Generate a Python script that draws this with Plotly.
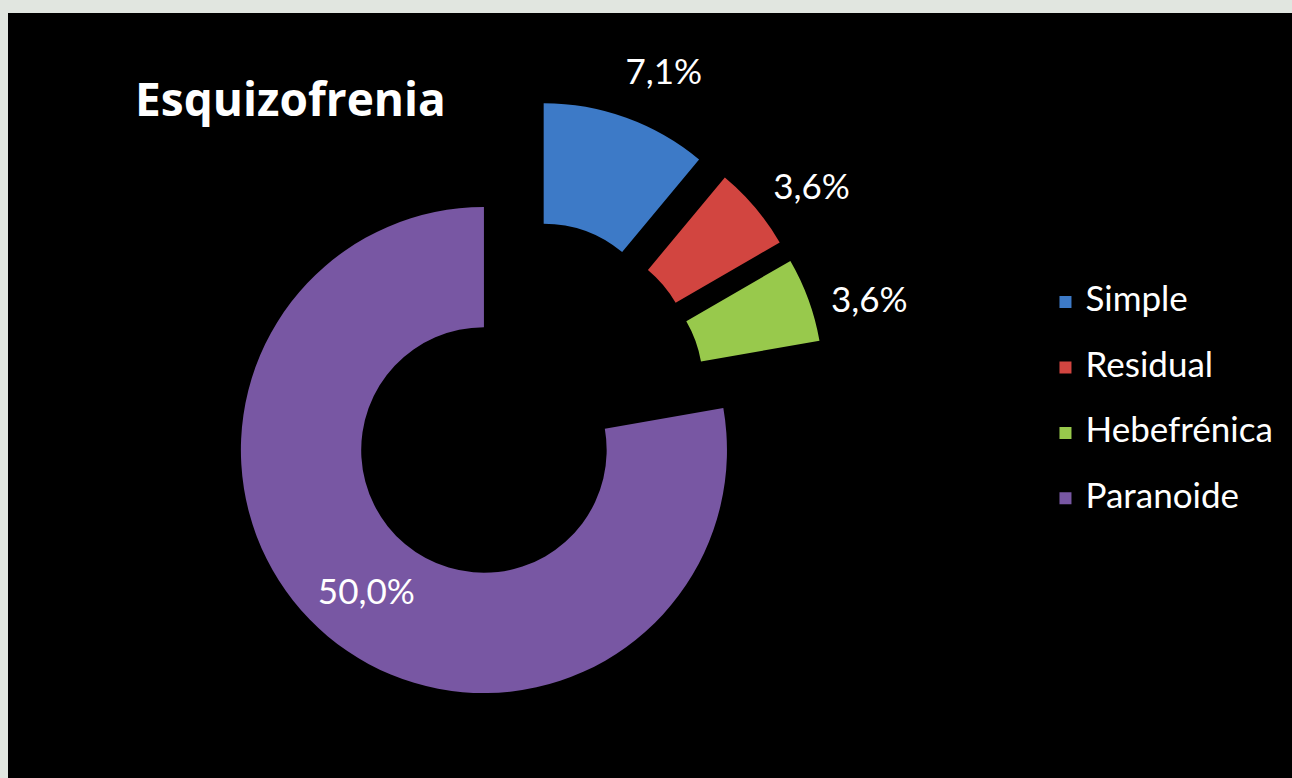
import plotly.graph_objects as go

# data
categories = ["Simple", "Residual", "Hebefrénica", "Paranoide"]
percent_values = [7.1, 3.6, 3.6, 50.0]
percent_labels = ["7,1%", "3,6%", "3,6%", "50,0%"]

colors = ["#3d7ac7", "#d24540", "#98c94c", "#7857a3"]
FONT = "Lato, 'Open Sans', sans-serif"

# two-line legend entries so the spacing matches the original (symbol sits on first line)
legend_names = [f"<span style='font-size:35px'>{c}</span><br> " for c in categories]

fig = go.Figure()
# the doughnut itself, every slice exploded
fig.add_trace(go.Pie(
    labels=legend_names,
    values=percent_values,
    text=percent_labels,
    texttemplate="%{text}",
    textposition=["none", "none", "none", "inside"],
    insidetextorientation="horizontal",
    textfont=dict(family=FONT, size=35, color="white"),
    hole=0.505,
    pull=[0.25, 0.25, 0.25, 0.25],
    sort=False,
    direction="clockwise",
    rotation=0,
    marker=dict(colors=colors, line=dict(width=0)),
    domain=dict(x=[0.1645, 0.6377], y=[0.0919, 0.8871]),
    hoverinfo="skip",
))
# transparent outer ring, only carries the labels of the small slices further out
fig.add_trace(go.Pie(
    labels=categories,
    values=percent_values,
    text=percent_labels,
    texttemplate="%{text}",
    textposition=["inside", "inside", "inside", "none"],
    insidetextorientation="horizontal",
    textfont=dict(family=FONT, size=35, color="white"),
    hole=0.936,
    sort=False,
    direction="clockwise",
    rotation=3,
    marker=dict(colors=["rgba(0,0,0,0)"] * 4, line=dict(width=0)),
    domain=dict(x=[0.1098, 0.6924], y=[0.0, 0.9778]),
    showlegend=False,
    hoverinfo="skip",
))

fig.update_layout(
    width=1292,
    height=778,
    margin=dict(l=8, r=0, t=13, b=0, autoexpand=False),
    paper_bgcolor="#e1e6e0",
    font=dict(family=FONT, color="white"),
    uniformtext=dict(mode="show", minsize=35),
    title=dict(
        text="<b>Esquizofrenia</b>",
        font=dict(family="'Open Sans', Lato, sans-serif", size=46, color="white"),
        xref="container", x=0.1045, xanchor="left",
        yref="container", y=0.872, yanchor="middle",
    ),
    legend=dict(
        x=0.808, xanchor="left",
        y=0.651, yanchor="top",
        valign="top",
        font=dict(family=FONT, size=24, color="white"),
        bgcolor="rgba(0,0,0,0)",
    ),
    shapes=[dict(
        type="rect", xref="paper", yref="paper",
        x0=0, x1=1, y0=0, y1=1,
        fillcolor="black", line=dict(width=0), layer="below",
    )],
)

fig.write_html(
    "out.html",
    config={"displayModeBar": False},
    post_script="document.body.style.margin='0';document.body.style.background='#e1e6e0';",
)
